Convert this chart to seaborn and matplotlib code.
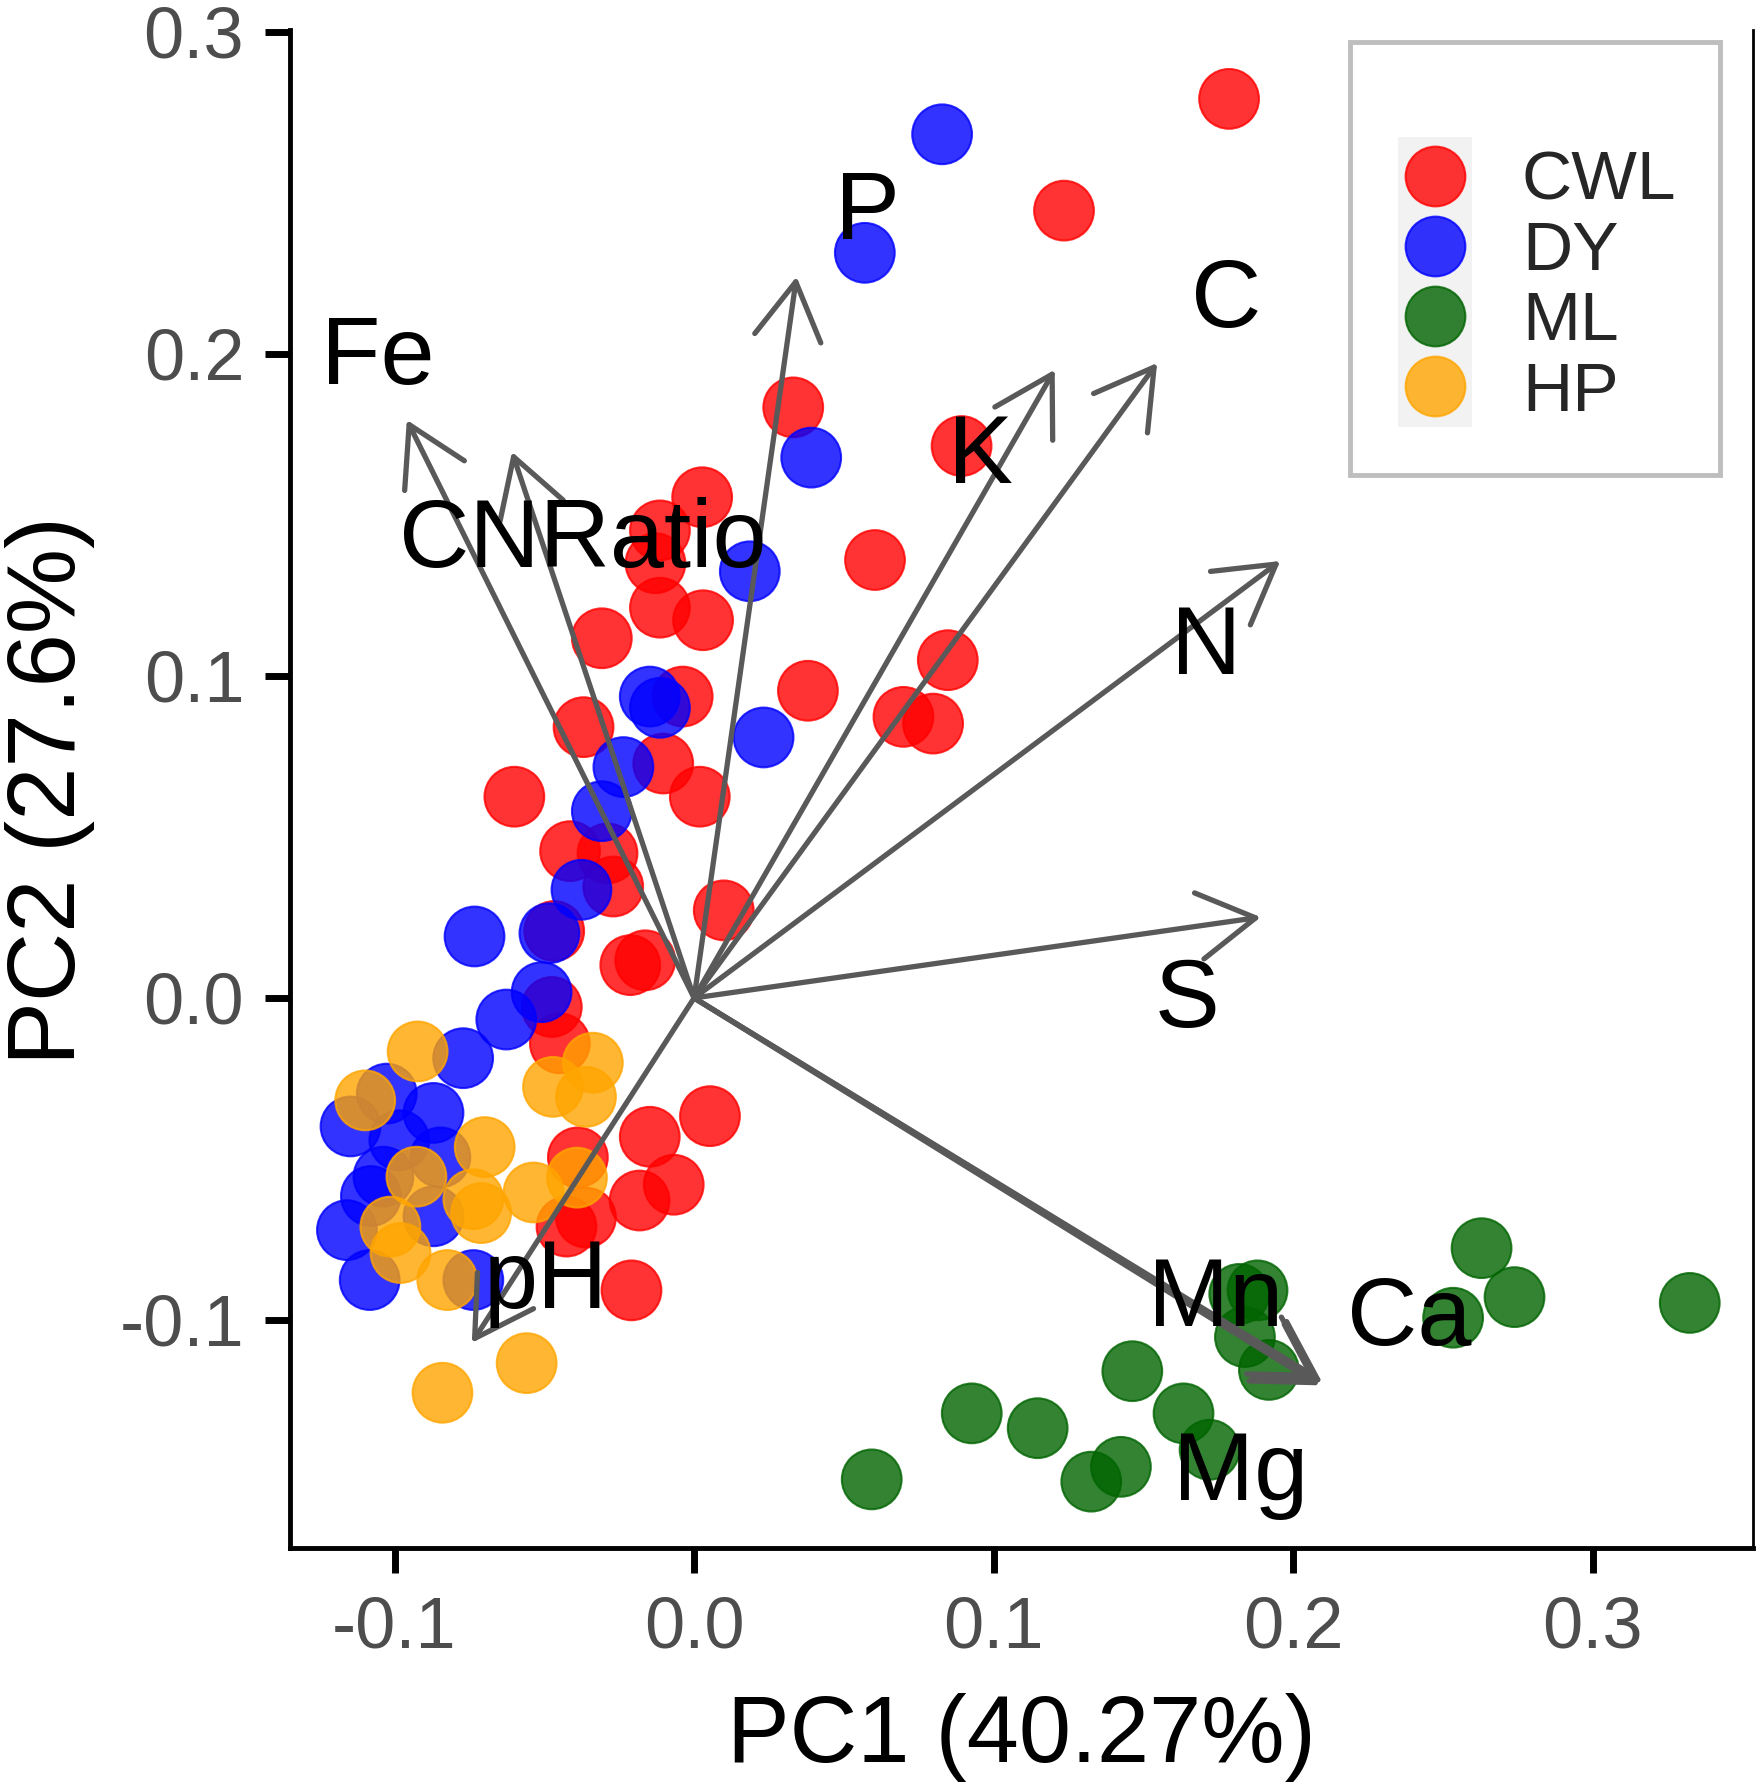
import matplotlib
matplotlib.use("Agg")
import matplotlib.pyplot as plt
from matplotlib.patches import Rectangle
from matplotlib.lines import Line2D
import pandas as pd
import seaborn as sns

# PCA scores
cwl_pc1 = [0.1786, 0.1235, 0.0331, 0.0893, 0.0027, -0.0114, -0.0129, -0.0114, 0.0030, -0.0308,
           0.0604, 0.0847, 0.0699, 0.0798, 0.0380, -0.0038, -0.0369, -0.0103, 0.0019, -0.0600,
           -0.0414, -0.0289, -0.0270, 0.0099, -0.0213, -0.0163, -0.0475, -0.0448, -0.0388, -0.0426,
           -0.0148, 0.0053, -0.0182, -0.0068, -0.0209, -0.0467, -0.0361]
cwl_pc2 = [0.2792, 0.2445, 0.1834, 0.1714, 0.1555, 0.1452, 0.1350, 0.1212, 0.1173, 0.1117,
           0.1360, 0.1049, 0.0873, 0.0852, 0.0954, 0.0936, 0.0841, 0.0728, 0.0625, 0.0625,
           0.0456, 0.0449, 0.0346, 0.0272, 0.0102, 0.0117, -0.0028, -0.0141, -0.0495, -0.0710,
           -0.0431, -0.0367, -0.0629, -0.0580, -0.0908, 0.0208, -0.0682]

dy_pc1 = [0.0828, 0.0570, 0.0391, 0.0186, -0.0148, -0.0114, 0.0232, -0.0236, -0.0308, -0.0376,
          -0.0483, -0.0733, -0.0509, -0.0627, -0.0771, -0.1026, -0.1147, -0.0870, -0.1037, -0.1079,
          -0.0847, -0.1159, -0.1083, -0.0870, -0.0737, -0.0984]
dy_pc2 = [0.2682, 0.2314, 0.1678, 0.1325, 0.0936, 0.0901, 0.0809, 0.0717, 0.0580, 0.0336,
          0.0201, 0.0191, 0.0018, -0.0067, -0.0187, -0.0297, -0.0399, -0.0357, -0.0555, -0.0615,
          -0.0495, -0.0721, -0.0876, -0.0678, -0.0876, -0.0442]

ml_pc1 = [0.0593, 0.0927, 0.1147, 0.1463, 0.1326, 0.1425, 0.1634, 0.1721, 0.1881, 0.1820,
          0.1839, 0.1919, 0.2629, 0.2739, 0.2534, 0.3324]
ml_pc2 = [-0.1495, -0.1290, -0.1336, -0.1159, -0.1502, -0.1456, -0.1290, -0.1403, -0.0908, -0.0919,
          -0.1053, -0.1155, -0.0777, -0.0929, -0.0993, -0.0947]

hp_pc1 = [-0.0923, -0.1098, -0.0338, -0.0471, -0.0361, -0.0927, -0.0699, -0.0711, -0.0536, -0.0391,
          -0.1014, -0.0980, -0.0824, -0.0840, -0.0559, -0.0737]
hp_pc2 = [-0.0166, -0.0318, -0.0201, -0.0276, -0.0307, -0.0555, -0.0463, -0.0668, -0.0604, -0.0558,
          -0.0710, -0.0792, -0.0876, -0.1226, -0.1134, -0.0625]

groups = ["CWL", "DY", "ML", "HP"]
palette = {"CWL": "#FF0000", "DY": "#0000FF", "ML": "#006400", "HP": "#FFA500"}

# loading vectors (arrow tips) and where their labels sit
var_names = ["P", "Fe", "CNRatio", "K", "C", "N", "S", "Mn", "Ca", "Mg", "pH"]
var_pc1 = [0.0342, -0.0959, -0.0608, 0.1204, 0.1546, 0.1957, 0.1892, 0.2080, 0.2097, 0.2088, -0.0742]
var_pc2 = [0.2240, 0.1795, 0.1696, 0.1951, 0.1972, 0.1357, 0.0251, -0.1180, -0.1194, -0.1203, -0.1071]
lab_pc1 = [0.0578, -0.1056, -0.0372, 0.0957, 0.1778, 0.1710, 0.1645, 0.1740, 0.2386, 0.1824, -0.0494]
lab_pc2 = [0.2433, 0.1983, 0.1415, 0.1678, 0.2162, 0.1085, -0.0011, -0.0942, -0.1000, -0.1480, -0.0885]

xticks = [-0.1, 0.0, 0.1, 0.2, 0.3]
yticks = [-0.1, 0.0, 0.1, 0.2, 0.3]
xtick_labels = ["-0.1", "0.0", "0.1", "0.2", "0.3"]
ytick_labels = ["-0.1", "0.0", "0.1", "0.2", "0.3"]

df = pd.concat([
    pd.DataFrame({"PC1": cwl_pc1, "PC2": cwl_pc2, "group": "CWL"}),
    pd.DataFrame({"PC1": dy_pc1, "PC2": dy_pc2, "group": "DY"}),
    pd.DataFrame({"PC1": ml_pc1, "PC2": ml_pc2, "group": "ML"}),
    pd.DataFrame({"PC1": hp_pc1, "PC2": hp_pc2, "group": "HP"}),
], ignore_index=True)

sns.set_style("white")
plt.rcParams["font.family"] = ["Liberation Sans", "DejaVu Sans"]

fig = plt.figure(figsize=(17.63, 17.84), dpi=100)
ax = fig.add_axes([0.1645, 0.1323, 0.8298, 0.8509])

sns.scatterplot(data=df, x="PC1", y="PC2", hue="group", hue_order=groups,
                palette=palette, s=1850, alpha=0.8, edgecolor="face",
                linewidth=1.5, legend=False, ax=ax, zorder=2)

# loading arrows
for name, x, y in zip(var_names, var_pc1, var_pc2):
    ax.annotate("", xy=(x, y), xytext=(0, 0),
                arrowprops=dict(arrowstyle="->,head_length=4.1,head_width=2.4",
                                mutation_scale=10, color="#595959", lw=3.8,
                                shrinkA=0, shrinkB=0),
                zorder=3)
for name, x, y in zip(var_names, lab_pc1, lab_pc2):
    ax.text(x, y, name, fontsize=70, ha="center", va="center", color="black", zorder=4)

ax.set_xlim(-0.1349, 0.3535)
ax.set_ylim(-0.1708, 0.3006)
ax.set_xticks(xticks)
ax.set_xticklabels(xtick_labels)
ax.set_yticks(yticks)
ax.set_yticklabels(ytick_labels)
ax.tick_params(axis="both", direction="out", length=18, width=5, color="black",
               labelsize=52, labelcolor="#4d4d4d", bottom=True, left=True)
ax.tick_params(axis="x", pad=16)
ax.tick_params(axis="y", pad=15)
ax.spines["top"].set_visible(False)
for side in ["left", "bottom"]:
    ax.spines[side].set_linewidth(3.5)
    ax.spines[side].set_color("black")
ax.spines["right"].set_linewidth(2)
ax.spines["right"].set_color("black")

ax.set_xlabel("PC1 (40.27%)", fontsize=67.5, color="black")
ax.set_ylabel("PC2 (27.6%)", fontsize=69, color="black")
ax.xaxis.set_label_coords(0.5, -0.0955)
ax.yaxis.set_label_coords(-0.133, 0.499)

# legend box, ggplot style
fig.patches.append(Rectangle((0.7657, 0.7337), 0.2099, 0.2427, transform=fig.transFigure,
                             facecolor="white", edgecolor="#bebebe", linewidth=3.5, zorder=1))
fig.patches.append(Rectangle((0.793, 0.7607), 0.042, 0.1626, transform=fig.transFigure,
                             facecolor="#f2f2f2", edgecolor="none", zorder=2))
handles = [Line2D([], [], linestyle="none", marker="o", markersize=43, alpha=0.8,
                  markerfacecolor=palette[g], markeredgecolor=palette[g], markeredgewidth=1.5)
           for g in groups]
fig.legend(handles, groups, loc="upper left", bbox_to_anchor=(0.7943, 0.9160),
           frameon=False, fontsize=50, handlelength=1.0, handletextpad=0.75,
           labelspacing=0.09, borderpad=0, borderaxespad=0)

fig.savefig("out.png", dpi=100)
